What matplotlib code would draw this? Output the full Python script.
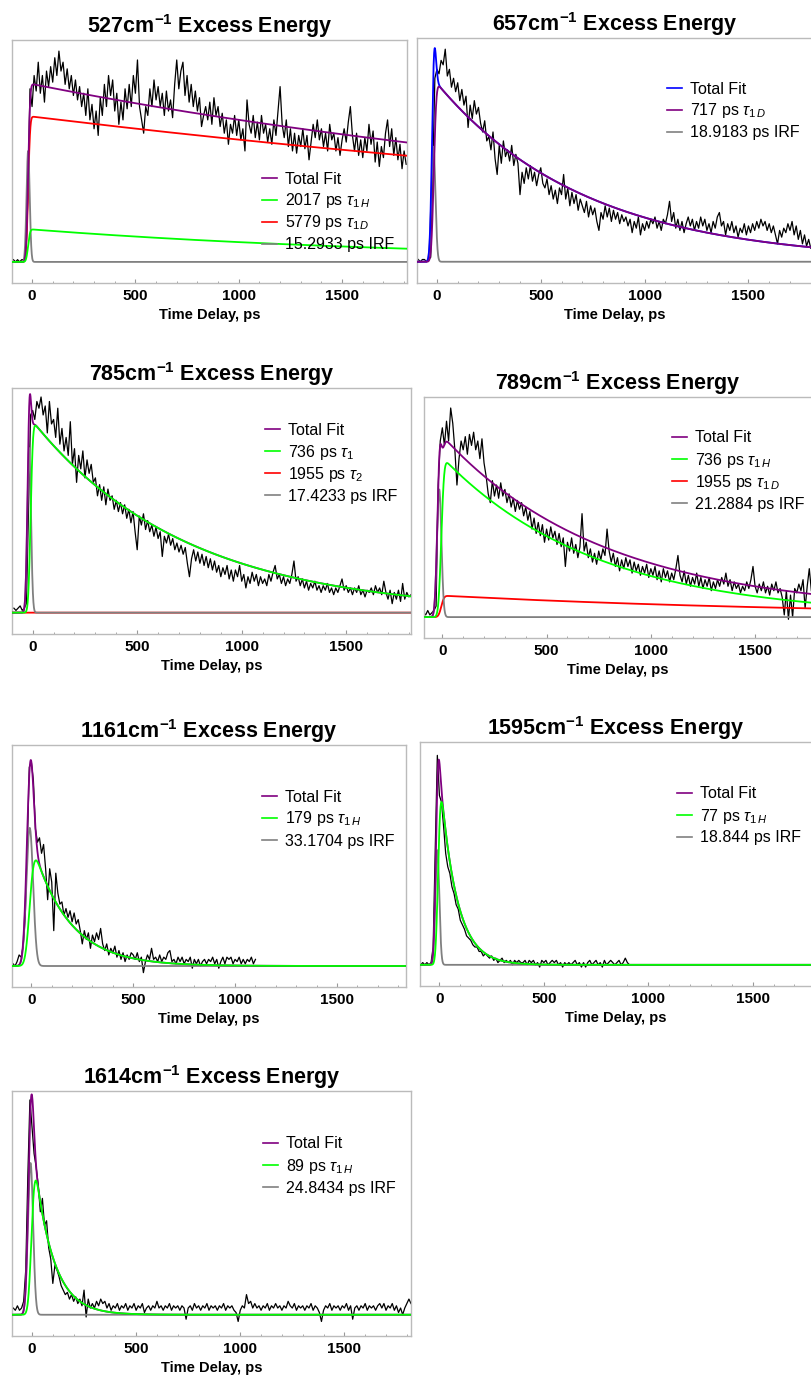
import math
import numpy as np
import matplotlib
matplotlib.use('Agg')
import matplotlib.pyplot as plt
from matplotlib.lines import Line2D
from matplotlib.ticker import MultipleLocator

plt.rcParams['font.family'] = ['Liberation Sans', 'DejaVu Sans']
plt.rcParams['mathtext.fontset'] = 'custom'
plt.rcParams['mathtext.rm'] = 'Liberation Sans'
plt.rcParams['mathtext.it'] = 'Liberation Sans:italic'
plt.rcParams['mathtext.bf'] = 'Liberation Sans:bold'

PURPLE = '#800080'
GREEN = '#00ff00'
RED = '#ff0000'
GRAY = '#808080'
BLUE = '#0000ff'

# delay scans: first delay and step in ps, signal in arb. units (baseline = 0)
T_START = -90
T_STEP = 10

trace_527 = [1, 0, 1, 0, 1, 1, 2, 30, 78, 70, 84, 77, 90, 76, 84, 72, 86, 79, 88, 81, 92, 84, 95, 86,
             90, 80, 87, 78, 84, 75, 82, 73, 79, 70, 76, 66, 78, 64, 71, 60, 68, 57, 74, 66, 80, 70,
             84, 75, 82, 68, 76, 62, 72, 64, 78, 69, 80, 70, 84, 76, 91, 70, 64, 58, 70, 66, 78, 70,
             82, 73, 79, 70, 76, 66, 77, 68, 73, 65, 80, 91, 78, 86, 90, 75, 84, 72, 80, 70, 77, 68,
             74, 61, 66, 70, 64, 72, 62, 74, 66, 70, 61, 67, 58, 64, 53, 62, 58, 66, 57, 64, 55, 60,
             50, 73, 62, 58, 66, 56, 63, 55, 66, 58, 62, 54, 60, 53, 64, 57, 68, 79, 62, 56, 64, 52,
             60, 50, 58, 49, 57, 52, 60, 51, 57, 46, 54, 62, 56, 64, 55, 60, 52, 58, 50, 62, 55, 58,
             50, 56, 48, 55, 60, 54, 63, 70, 57, 50, 58, 48, 55, 47, 56, 50, 62, 53, 59, 45, 54, 43,
             52, 47, 58, 64, 52, 60, 48, 56, 46, 53, 42, 50, 44]

trace_657 = [1, 0, 1, 1, 0, 1, 2, 40, 82, 86, 84, 90, 88, 95, 83, 86, 78, 82, 76, 80, 72, 77, 70, 74,
             60, 70, 64, 72, 66, 69, 62, 58, 63, 54, 56, 50, 58, 46, 39, 52, 44, 54, 47, 50, 45, 52,
             43, 48, 44, 30, 40, 35, 42, 37, 43, 36, 40, 34, 39, 42, 35, 33, 37, 30, 34, 28, 32, 26,
             33, 30, 39, 28, 33, 25, 31, 26, 30, 23, 28, 25, 22, 27, 20, 25, 21, 24, 18, 14, 22, 19,
             25, 20, 24, 18, 23, 19, 22, 17, 21, 18, 20, 16, 19, 13, 18, 15, 20, 12, 17, 14, 18, 15,
             19, 17, 20, 15, 18, 14, 19, 17, 21, 27, 18, 22, 15, 19, 14, 18, 13, 17, 20, 16, 19, 14,
             18, 15, 20, 16, 19, 14, 17, 13, 18, 15, 20, 22, 16, 18, 12, 17, 14, 18, 13, 16, 11, 15,
             13, 17, 12, 16, 13, 17, 14, 18, 15, 19, 16, 18, 14, 17, 13, 16, 12, 8, 14, 11, 15, 13,
             17, 14, 18, 12, 16, 10, 14, 8, 12, 7, 10, 6, 8]

trace_785 = [2, 1, 2, 3, 1, 2, 4, 45, 88, 90, 86, 94, 91, 96, 88, 92, 80, 94, 84, 86, 78, 91, 75, 82,
             72, 78, 70, 85, 66, 73, 58, 70, 64, 72, 60, 68, 62, 66, 58, 60, 52, 57, 50, 56, 48, 55,
             50, 52, 46, 50, 45, 49, 44, 48, 42, 46, 40, 45, 36, 28, 43, 39, 44, 37, 41, 36, 39, 34,
             38, 33, 36, 25, 34, 31, 35, 30, 33, 28, 31, 27, 30, 26, 29, 22, 16, 24, 28, 23, 27, 22,
             26, 21, 25, 20, 24, 19, 23, 18, 21, 16, 20, 17, 21, 15, 19, 14, 19, 16, 21, 14, 17, 11,
             16, 13, 18, 14, 17, 12, 16, 13, 15, 12, 17, 14, 18, 21, 15, 17, 13, 16, 12, 15, 13, 17,
             23, 14, 16, 12, 15, 11, 14, 10, 13, 11, 14, 10, 12, 9, 12, 10, 13, 9, 11, 8, 11, 9, 12,
             15, 10, 12, 9, 11, 8, 11, 9, 12, 8, 10, 7, 10, 9, 11, 8, 12, 9, 11, 8, 14, 9, 6, 10, 4,
             9, 6, 10, 5, 13, 6, 9, 7, 8]

trace_789 = [2, 1, 3, 1, 2, 3, 5, 60, 80, 86, 78, 89, 80, 95, 88, 76, 60, 72, 80, 76, 82, 74, 83, 78,
             84, 76, 80, 72, 81, 70, 64, 56, 52, 62, 55, 60, 54, 61, 55, 58, 52, 56, 50, 54, 48, 53,
             49, 52, 46, 50, 44, 48, 40, 45, 38, 43, 37, 42, 34, 40, 35, 41, 36, 39, 33, 38, 32, 36,
             23, 34, 30, 36, 29, 33, 27, 32, 47, 30, 34, 27, 31, 25, 29, 24, 30, 26, 31, 28, 40, 30,
             25, 29, 23, 27, 21, 26, 22, 27, 23, 26, 20, 25, 21, 24, 19, 23, 20, 24, 18, 22, 19, 23,
             17, 21, 16, 22, 18, 21, 16, 20, 17, 22, 28, 19, 16, 21, 15, 19, 14, 18, 15, 20, 14, 18,
             13, 17, 14, 18, 12, 16, 13, 17, 14, 18, 15, 20, 14, 17, 12, 16, 13, 15, 11, 14, 12, 16,
             13, 17, 23, 14, 11, 15, 12, 16, 11, 14, 10, 15, 12, 16, 11, 13, 9, 1, 12, -1, 10, 0, 13,
             11, 15, 12, 17, 4, 14, 22, 12]

trace_1161 = [1, 0, 2, 5, 4, 9, 22, 55, 90, 92, 84, 62, 56, 58, 51, 55, 44, 30, 44, 38, 16, 42, 33,
              28, 29, 23, 26, 22, 25, 20, 24, 19, 21, 16, 10, 16, 12, 15, 8, 14, 11, 15, 12, 17, 10,
              7, 10, 5, 8, 6, 9, 4, 7, 3, 6, 2, 5, 3, 6, 5, 3, 6, 2, 4, -3, 2, 5, 3, 8, 3, 4, 2, 5,
              2, 4, 3, 6, 7, 2, 3, 1, 4, 2, 4, 1, 3, 2, 4, -1, 3, 1, 3, 0, 2, 3, 1, 3, 2, 4, 1, 3,
              -1, 2, 4, 1, 4, 3, 4, 1, 3, 2, 4, 1, 3, 1, 3, 2, 4, 1, 3]

trace_1595 = [0, 1, 0, 1, 0, 1, 8, 52, 94, 76, 73, 62, 50, 44, 41, 35, 32, 27, 25, 20, 18, 16, 13,
              12, 11, 9, 8, 8, 6, 6, 4, 5, 4, 3, 4, 2, 3, 1, 2, 3, 1, 2, 1, 2, 0, 2, 1, 2, 1, 1, 2,
              0, 2, 1, 2, 0, 1, -1, 2, 1, 2, 0, 1, 2, 1, 2, 0, 1, -1, 1, 0, 1, 0, 1, 2, 0, 1, -1, 1,
              -1, 1, 2, 0, 1, 2, 0, 1, -1, 2, 0, 1, 2, 1, 0, 1, 2, 0, 1, 3, 1, 0]

trace_1614 = [3, 2, 4, 2, 3, 6, 20, 62, 96, 84, 72, 66, 58, 46, 52, 40, 42, 30, 25, 14, 22, 20, 17,
              13, 11, 9, 10, 7, 9, 6, 8, 5, 7, 4, 11, -1, 7, 3, 5, 3, 6, 4, 7, 5, 6, 3, 5, 2, 4, 3,
              5, 2, 4, 3, 5, 2, 4, 3, 5, 2, 4, 3, 5, 1, 3, 4, 2, 4, 3, 6, 3, 4, 2, 4, 3, 5, 2, 4, 3,
              4, 2, 4, 3, -2, 3, 4, 2, 5, 3, 4, 2, 4, 3, 5, 2, 4, 3, 4, 2, 4, 3, 5, 2, 4, 3, 4, 2,
              1, -3, 2, 4, 3, 9, 5, 6, 3, 5, 3, 4, 2, 4, 3, 5, 2, 4, 3, 5, 3, 4, 2, 4, 3, 6, 4, 3,
              5, 2, 4, 3, 4, 2, 4, 3, 5, 2, 4, 3, 1, -3, 2, 4, 3, 5, 2, 4, 3, 4, 2, 4, 3, 5, 2, 4,
              -2, 3, 4, 2, 4, 3, 5, 2, 4, 3, 4, 2, 4, 5, 3, 5, 2, 4, 3, 5, 2, 4, 1, 3, 0, 3, 5, 7, 5]

energies = [527, 657, 785, 789, 1161, 1595, 1614]
traces = [trace_527, trace_657, trace_785, trace_789, trace_1161, trace_1595, trace_1614]

# fit results: lifetimes (ps), their peak heights, onset of the rise (ps)
taus = [[2017, 5779], [717], [736, 1955], [736, 1955], [179], [77], [89]]
tau_subs = [['1\\,H', '1\\,D'], ['1\\,D'], ['1', '2'], ['1\\,H', '1\\,D'], ['1\\,H'], ['1\\,H'], ['1\\,H']]
comp_peaks = [[14.6, 65.4], [78.3], [83.3, 0.0], [70.0, 9.6], [47.8], [73.1], [60.0]]
onsets = [-19, -15, -10, -5, -8, -6, -2]

# instrument response: width (ps), centre (ps), height of the total fit at the spike
irf_width = [15.2933, 18.9183, 17.4233, 21.2884, 33.1704, 18.844, 24.8434]
irf_center = [-19, -17, -17, -15, -8, -10, -7]
fit_peak = [None, 95.5, 97.3, None, 93.2, 92.1, 98.5]
irf_peak_fixed = [50, None, None, 58, None, None, None]

comp_colors = [[GREEN, RED], [PURPLE], [GREEN, RED], [GREEN, RED], [GREEN], [GREEN], [GREEN]]
total_colors = [PURPLE, BLUE, PURPLE, PURPLE, PURPLE, PURPLE, PURPLE]

# panel boxes in pixels (left, top, right, bottom), x limits, key position
W, H = 812, 1375
boxes = [(12, 40, 407, 283), (417, 38, 812, 283), (12, 388, 411, 634), (424, 397, 812, 638),
         (12, 745, 406, 987), (420, 742, 812, 986), (12, 1091, 411, 1336)]
xlims = [(-97, 1814), (-96, 1806), (-99, 1810), (-88, 1773), (-95, 1839), (-93, 1784), (-96, 1820)]
keys = [(262, 178), (667, 88), (265, 429), (672, 437), (262, 796), (677, 793), (263, 1143)]
KEY_ROW = 22

erfc = np.vectorize(math.erfc)


def rise_decay(t, tau, t_on, sigma):
    # exponential decay convolved with a gaussian response
    x = t - t_on
    return np.exp(sigma ** 2 / (2 * tau ** 2) - x / tau) * erfc((sigma / tau - x / sigma) / np.sqrt(2)) / 2


def irf_height(base, g, target):
    # scale of the response so that the total fit tops out at target
    lo, hi = 0.0, 200.0
    for _ in range(50):
        mid = (lo + hi) / 2
        if (base + mid * g).max() > target:
            hi = mid
        else:
            lo = mid
    return lo


fig = plt.figure(figsize=(W / 100, H / 100), dpi=100)

for k in range(len(energies)):
    l, t, r, b = boxes[k]
    ax = fig.add_axes([l / W, 1 - b / H, (r - l) / W, (b - t) / H])

    tt = np.linspace(xlims[k][0], xlims[k][1], 3000)
    # gaussian exp(-2 t^2 / w^2)
    sigma = irf_width[k] / 2
    g = np.exp(-0.5 * ((tt - irf_center[k]) / sigma) ** 2)

    comps = []
    for tau, peak in zip(taus[k], comp_peaks[k]):
        shape = rise_decay(tt, tau, onsets[k], sigma)
        comps.append(peak * shape / shape.max())
    total = np.sum(comps, axis=0)
    if fit_peak[k] is None:
        irf = irf_peak_fixed[k] * g
        if k != 0:
            total = total + irf
    else:
        irf = irf_height(total, g, fit_peak[k]) * g
        total = total + irf

    y = np.array(traces[k], dtype=float)
    td = T_START + T_STEP * np.arange(len(y))
    ax.plot(td, y, color='black', lw=0.9, zorder=2)

    ax.plot(tt, total, color=total_colors[k], lw=1.3, zorder=5)
    ax.plot(tt, irf, color=GRAY, lw=1.3, zorder=4)
    for c, col in zip(comps, comp_colors[k]):
        ax.plot(tt, c, color=col, lw=1.3, zorder=3 if col == RED else 6)

    ax.set_xlim(*xlims[k])
    ax.set_ylim(-9.5, 100)
    ax.set_yticks([])
    ax.xaxis.set_major_locator(MultipleLocator(500))
    ax.xaxis.set_minor_locator(MultipleLocator(100))
    ax.tick_params(axis='x', which='major', direction='in', length=3, width=0.8,
                   color='#999999', pad=4, labelsize=11)
    ax.tick_params(axis='x', which='minor', direction='in', length=1.8, width=0.6, color='#999999')
    for lab in ax.get_xticklabels():
        lab.set_fontweight('bold')
    for sp in ax.spines.values():
        sp.set_color('#bbbbbb')
        sp.set_linewidth(1.0)

    ax.set_xlabel('Time Delay, ps', fontsize=10.5, fontweight='bold', labelpad=4)
    ax.set_title(rf'{energies[k]}cm$^{{\mathbf{{-1}}}}$ Excess Energy', fontsize=15.5,
                 fontweight='bold', pad=4)

    # key
    entries = [('Total Fit', total_colors[k])]
    for tau, sub, col in zip(taus[k], tau_subs[k], comp_colors[k]):
        entries.append((f'{tau} ps $\\tau_{{{sub}}}$', col))
    entries.append((f'{irf_width[k]} ps IRF', GRAY))
    kx, ky = keys[k]
    for i, (text, col) in enumerate(entries):
        yk = 1 - (ky + i * KEY_ROW) / H
        fig.add_artist(Line2D([kx / W, (kx + 15) / W], [yk, yk], color=col, lw=1.2))
        fig.text((kx + 23) / W, yk - 5.5 / H, text, fontsize=11.5, va='baseline')

fig.savefig('out.png', dpi=100)
